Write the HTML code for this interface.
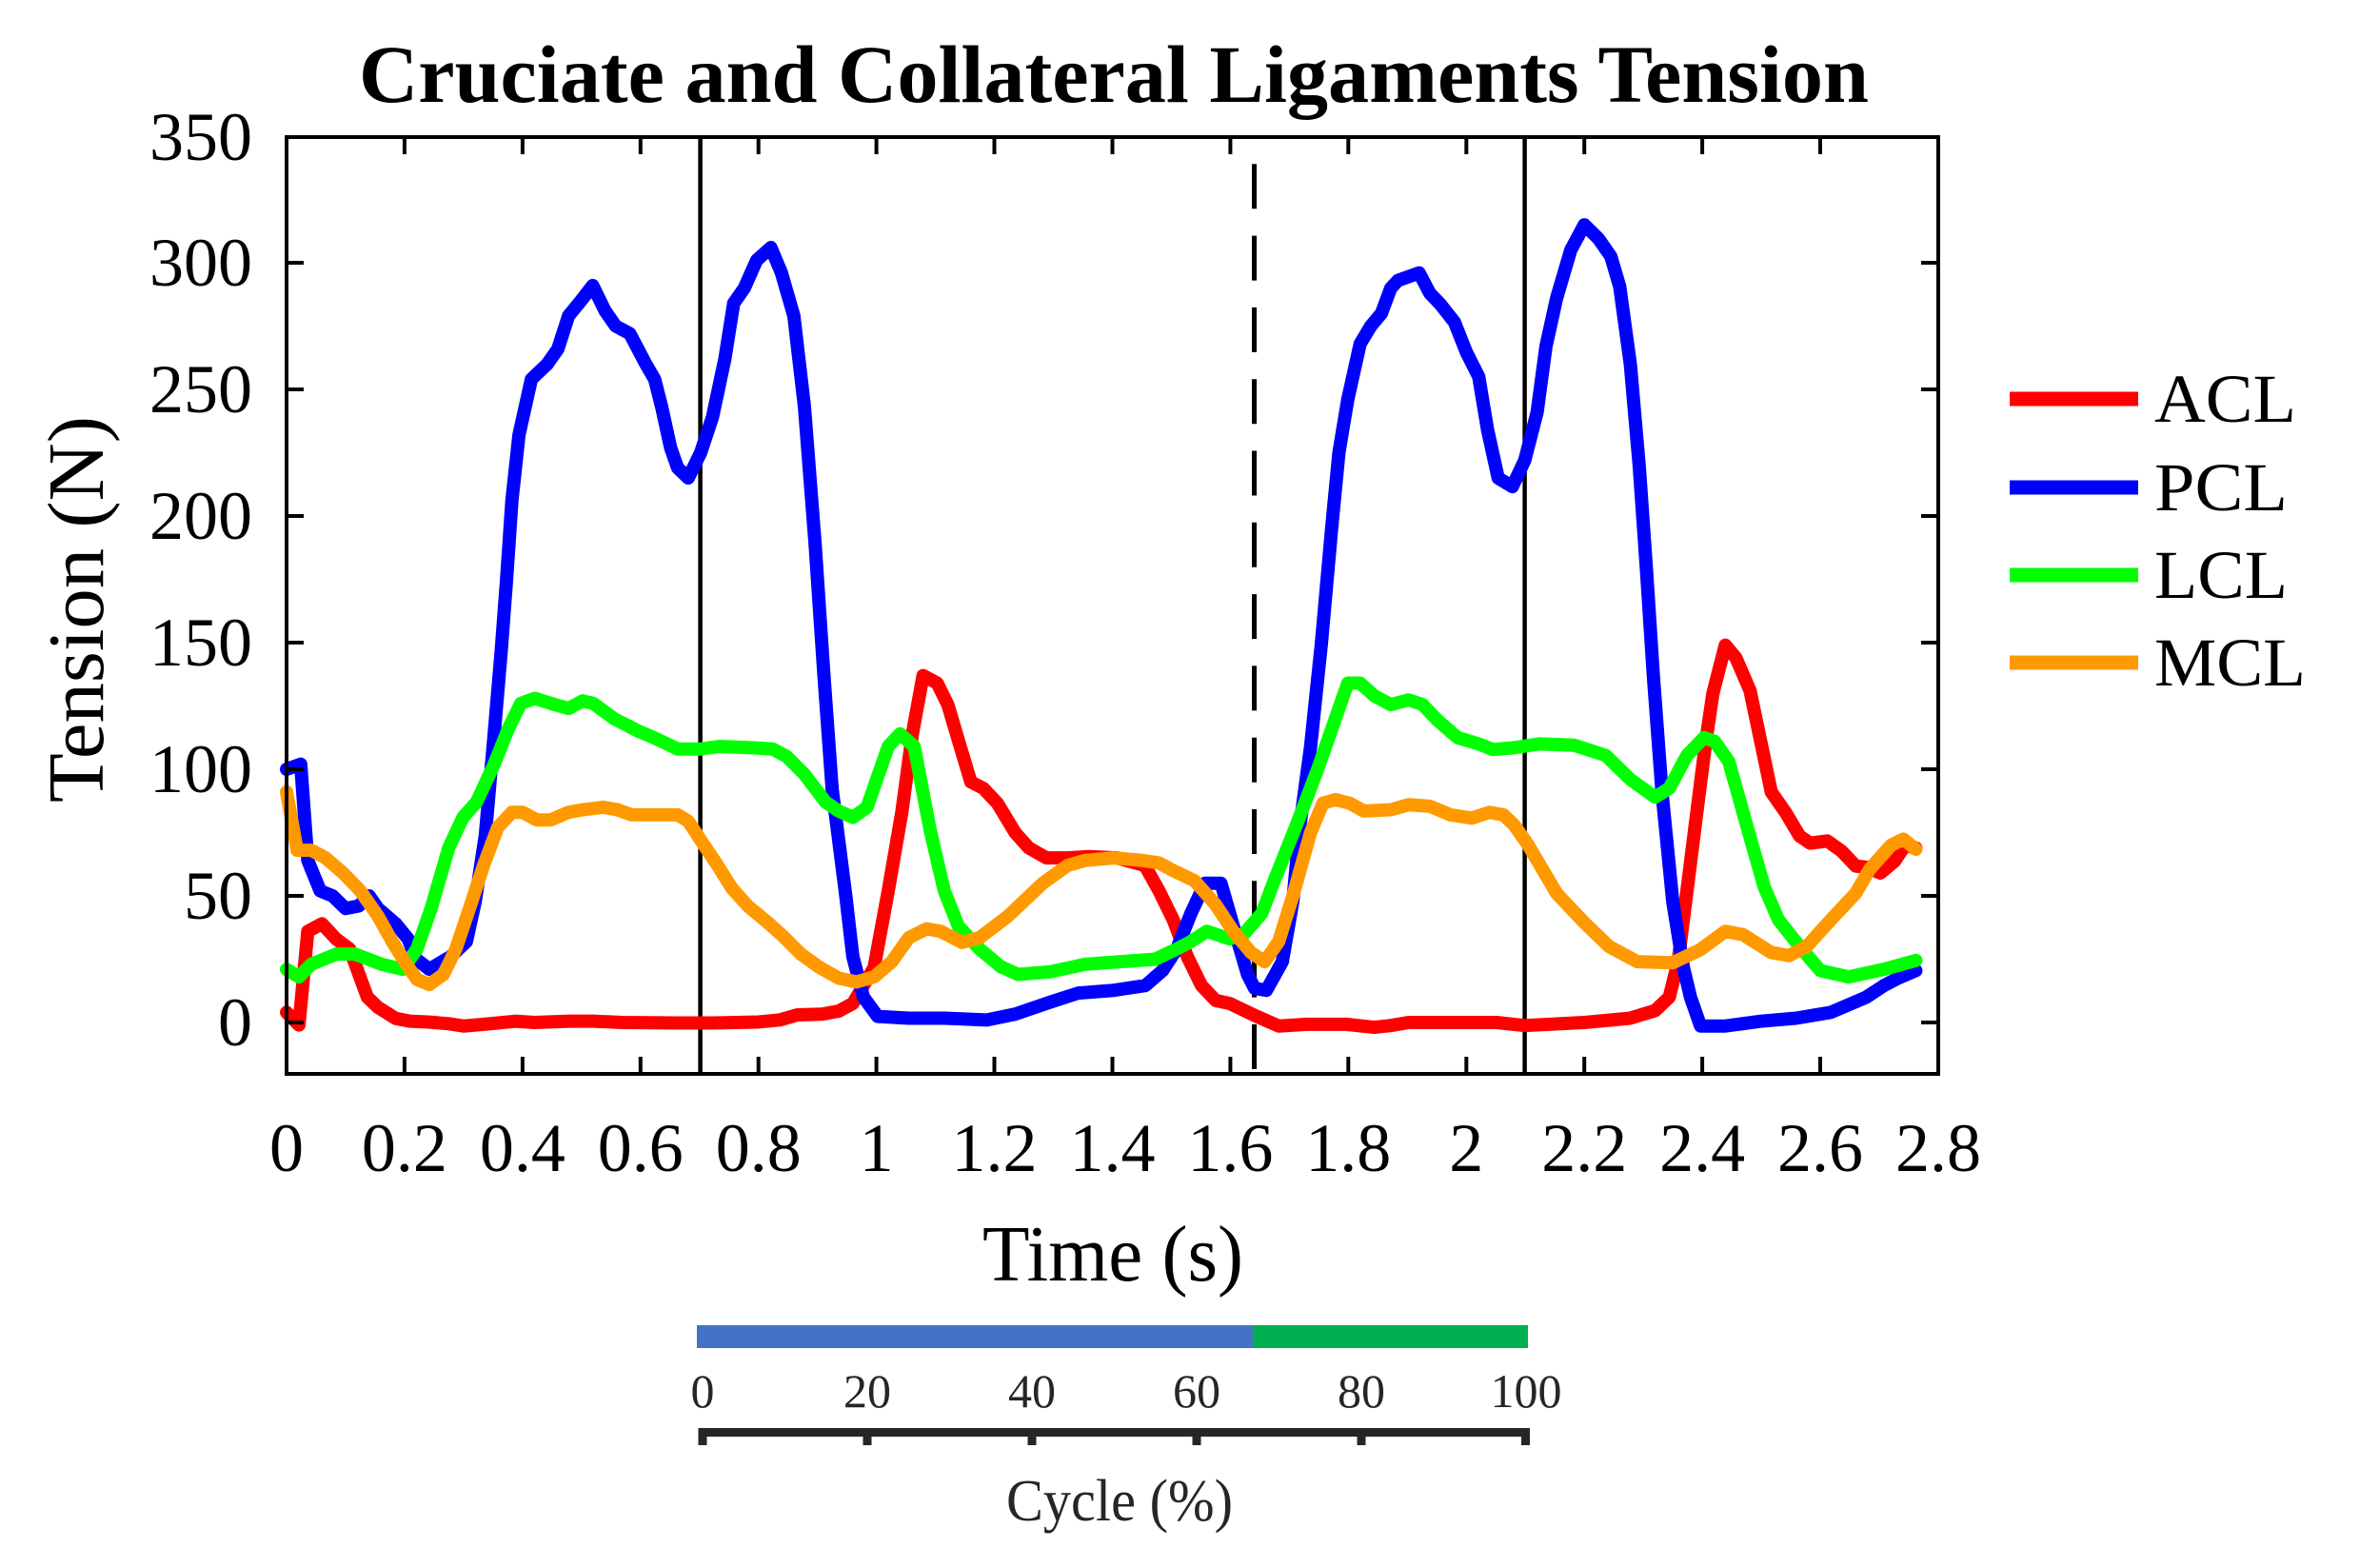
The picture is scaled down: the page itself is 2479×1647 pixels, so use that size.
<!DOCTYPE html>
<html>
<head>
<meta charset="utf-8">
<style>
html,body{margin:0;padding:0;background:#fff;}
svg{display:block;}
text{font-family:"Liberation Serif",serif;}
</style>
</head>
<body>
<svg xmlns="http://www.w3.org/2000/svg" width="2479" height="1647" viewBox="0 0 2479 1647">
<rect x="0" y="0" width="2479" height="1647" fill="#fff"/>

<!-- Title -->
<text x="1170" y="107" font-size="86" font-weight="bold" text-anchor="middle" textLength="1586" lengthAdjust="spacingAndGlyphs">Cruciate and Collateral Ligaments Tension</text>

<!-- vertical reference lines -->
<line x1="735.6" y1="144" x2="735.6" y2="1128" stroke="#000" stroke-width="4.5"/>
<line x1="1317.5" y1="144" x2="1317.5" y2="1128" stroke="#000" stroke-width="5" stroke-dasharray="47 28.3" stroke-dashoffset="47"/>
<line x1="1601.6" y1="144" x2="1601.6" y2="1128" stroke="#000" stroke-width="4.5"/>

<!-- data -->
<g transform="matrix(619.64 0 0 -2.66 301 1074)" fill="none" stroke-linejoin="round" stroke-linecap="round">
<polyline vector-effect="non-scaling-stroke" stroke="#FF0000" stroke-width="14" points="0,4 0.021,-1 0.036,36 0.06,39 0.084,33 0.107,29 0.137,10 0.155,6 0.185,1.6 0.209,0.5 0.24,0.2 0.275,-0.5 0.3,-1.4 0.335,-0.7 0.388,0.5 0.42,0 0.48,0.5 0.52,0.5 0.57,0 0.66,-0.2 0.72,-0.2 0.8,0.2 0.836,1 0.866,3 0.908,3.3 0.936,4.5 0.96,7.5 0.996,21.7 1.02,52 1.043,83 1.061,114 1.079,137 1.103,134 1.121,125.5 1.142,109 1.16,95 1.181,92.5 1.205,86.6 1.235,75 1.258,69 1.288,65 1.324,65 1.36,65.5 1.408,65 1.455,62 1.479,52 1.503,40.6 1.527,26 1.551,14.6 1.575,8.7 1.599,7.5 1.641,2.8 1.682,-1.4 1.73,-0.7 1.796,-0.7 1.844,-1.9 1.872,-1.2 1.902,0 2.051,0 2.099,-1.2 2.2,0 2.278,1.7 2.32,4.7 2.344,10 2.359,24 2.374,52 2.392,85.4 2.406,111 2.418,130 2.439,149 2.457,144 2.481,131 2.499,111 2.517,91 2.541,83 2.565,73.6 2.583,70.8 2.612,71.7 2.636,67.7 2.66,61.8 2.678,61.3 2.702,59 2.726,63.7 2.744,70 2.762,68.9"/>
<polyline vector-effect="non-scaling-stroke" stroke="#0000FF" stroke-width="14" points="0,100 0.024,102 0.036,64 0.057,52 0.078,50 0.10,45 0.122,46 0.14,50 0.155,45 0.185,39 0.206,33 0.22,25 0.242,21 0.278,26 0.305,32 0.32,48 0.337,74 0.352,114 0.364,147 0.373,175 0.382,206 0.394,232 0.415,254 0.442,260 0.46,266 0.478,279 0.499,285 0.519,291 0.54,281 0.558,275 0.582,272 0.609,260 0.624,254 0.636,243 0.651,227 0.663,219 0.681,215 0.702,225 0.722,239 0.743,262 0.758,284 0.776,290 0.797,301 0.821,306 0.839,296 0.86,279 0.878,243 0.896,189 0.911,137 0.925,92 0.936,72 0.948,50 0.96,26 0.978,10 1.002,2.4 1.055,1.7 1.115,1.7 1.187,1 1.235,3.3 1.294,8 1.342,11.6 1.402,12.7 1.456,14.6 1.485,20.5 1.509,29 1.533,43 1.557,55 1.584,55 1.605,38 1.629,19 1.641,13.5 1.661,12.7 1.688,24 1.706,48 1.718,78 1.736,109 1.754,149 1.772,196 1.784,225 1.799,246 1.82,268 1.838,275 1.856,280 1.872,290 1.884,293 1.92,296 1.938,288 1.956,283.6 1.98,276.5 2.0,264.7 2.021,255 2.036,234 2.054,215 2.078,211.6 2.099,222 2.12,241 2.135,267 2.153,286 2.177,305 2.2,315 2.224,309.5 2.245,302.5 2.26,290.6 2.278,260 2.293,220 2.305,180 2.317,137 2.332,90 2.35,47.6 2.368,21.7 2.38,10 2.397,-1.4 2.439,-1.4 2.499,0.5 2.559,1.7 2.618,4 2.678,10 2.708,14.6 2.732,17.5 2.762,20.5"/>
<polyline vector-effect="non-scaling-stroke" stroke="#00FF00" stroke-width="14" points="0,21 0.021,18 0.042,23 0.084,27 0.116,27 0.161,23 0.197,21 0.221,29 0.245,45 0.275,69 0.299,81 0.322,87 0.352,102 0.376,116 0.397,126 0.421,128 0.448,126 0.478,124 0.502,127 0.52,126 0.555,120 0.597,115 0.627,112 0.663,108 0.702,108 0.734,109 0.788,108.5 0.824,108 0.848,105 0.878,98 0.914,87 0.936,83.5 0.96,81 0.984,85 1.02,109 1.04,114 1.064,109 1.091,76 1.115,52 1.139,38 1.175,29 1.211,22 1.24,19 1.294,20 1.354,23 1.414,24 1.473,25 1.509,29 1.533,32 1.56,36 1.599,33 1.623,35 1.653,43 1.676,57 1.712,78 1.748,100 1.784,124 1.799,134 1.82,134 1.844,129 1.872,125.5 1.902,127.4 1.926,125.5 1.95,119.6 1.985,112.5 2.021,110 2.045,107.8 2.081,108.5 2.123,110 2.182,109.5 2.236,105.5 2.278,96 2.32,89 2.344,92.5 2.374,105.5 2.403,112.5 2.421,111 2.445,103 2.475,78 2.505,53.5 2.529,40.6 2.565,30 2.6,20.5 2.648,18 2.708,21 2.762,24.5"/>
<polyline vector-effect="non-scaling-stroke" stroke="#FF9900" stroke-width="14" points="0,91 0.018,68 0.042,68 0.066,65 0.096,59 0.125,52 0.155,42 0.179,32 0.203,23 0.221,17 0.242,15 0.266,19 0.287,29 0.31,45 0.334,62 0.358,77 0.382,83 0.4,83 0.424,80 0.448,80 0.478,83 0.502,84 0.537,85 0.561,84 0.585,82 0.621,82 0.663,82 0.681,79.5 0.702,72 0.728,63 0.755,53 0.782,46 0.818,39 0.842,34 0.872,27 0.902,22 0.936,17.5 0.966,16 0.996,18 1.026,24 1.055,33.5 1.085,37 1.109,36 1.145,31.6 1.175,33.5 1.223,42 1.282,55 1.324,62 1.354,64 1.402,65 1.45,64 1.479,63 1.503,60 1.539,56 1.575,46.5 1.605,36 1.635,27.6 1.658,24 1.682,32 1.706,50 1.736,75 1.757,86.6 1.778,88 1.802,86.6 1.826,83.5 1.872,84 1.902,86 1.938,85.4 1.973,82 2.009,80.7 2.039,83 2.063,82 2.081,78 2.105,70 2.153,51 2.2,39.4 2.242,30 2.29,24 2.35,23.6 2.397,28.8 2.439,36 2.469,34.7 2.517,27.6 2.547,26.4 2.577,30 2.618,40.6 2.66,51 2.684,60.6 2.72,70 2.741,72.4 2.762,68.4"/>
</g>

<!-- axes box -->
<rect x="301" y="144" width="1735" height="984" fill="none" stroke="#000" stroke-width="4"/>

<!-- ticks -->
<g stroke="#000" stroke-width="4">
<line x1="301" y1="1074" x2="319" y2="1074"/><line x1="2036" y1="1074" x2="2018" y2="1074"/>
<line x1="301" y1="941" x2="319" y2="941"/><line x1="2036" y1="941" x2="2018" y2="941"/>
<line x1="301" y1="808" x2="319" y2="808"/><line x1="2036" y1="808" x2="2018" y2="808"/>
<line x1="301" y1="675" x2="319" y2="675"/><line x1="2036" y1="675" x2="2018" y2="675"/>
<line x1="301" y1="542" x2="319" y2="542"/><line x1="2036" y1="542" x2="2018" y2="542"/>
<line x1="301" y1="409" x2="319" y2="409"/><line x1="2036" y1="409" x2="2018" y2="409"/>
<line x1="301" y1="276" x2="319" y2="276"/><line x1="2036" y1="276" x2="2018" y2="276"/>
<line x1="424.9" y1="1128" x2="424.9" y2="1110"/><line x1="424.9" y1="144" x2="424.9" y2="162"/>
<line x1="548.9" y1="1128" x2="548.9" y2="1110"/><line x1="548.9" y1="144" x2="548.9" y2="162"/>
<line x1="672.8" y1="1128" x2="672.8" y2="1110"/><line x1="672.8" y1="144" x2="672.8" y2="162"/>
<line x1="796.7" y1="1128" x2="796.7" y2="1110"/><line x1="796.7" y1="144" x2="796.7" y2="162"/>
<line x1="920.6" y1="1128" x2="920.6" y2="1110"/><line x1="920.6" y1="144" x2="920.6" y2="162"/>
<line x1="1044.5" y1="1128" x2="1044.5" y2="1110"/><line x1="1044.5" y1="144" x2="1044.5" y2="162"/>
<line x1="1168.5" y1="1128" x2="1168.5" y2="1110"/><line x1="1168.5" y1="144" x2="1168.5" y2="162"/>
<line x1="1292.4" y1="1128" x2="1292.4" y2="1110"/><line x1="1292.4" y1="144" x2="1292.4" y2="162"/>
<line x1="1416.3" y1="1128" x2="1416.3" y2="1110"/><line x1="1416.3" y1="144" x2="1416.3" y2="162"/>
<line x1="1540.3" y1="1128" x2="1540.3" y2="1110"/><line x1="1540.3" y1="144" x2="1540.3" y2="162"/>
<line x1="1664.2" y1="1128" x2="1664.2" y2="1110"/><line x1="1664.2" y1="144" x2="1664.2" y2="162"/>
<line x1="1788.1" y1="1128" x2="1788.1" y2="1110"/><line x1="1788.1" y1="144" x2="1788.1" y2="162"/>
<line x1="1912" y1="1128" x2="1912" y2="1110"/><line x1="1912" y1="144" x2="1912" y2="162"/>
</g>

<!-- y tick labels -->
<g font-size="72" text-anchor="end" fill="#000">
<text x="265" y="1098">0</text>
<text x="265" y="965">50</text>
<text x="265" y="832">100</text>
<text x="265" y="699">150</text>
<text x="265" y="566">200</text>
<text x="265" y="433">250</text>
<text x="265" y="300">300</text>
<text x="265" y="168">350</text>
</g>

<!-- x tick labels -->
<g font-size="72" text-anchor="middle" fill="#000">
<text x="301" y="1230">0</text>
<text x="424.9" y="1230">0.2</text>
<text x="548.9" y="1230">0.4</text>
<text x="672.8" y="1230">0.6</text>
<text x="796.7" y="1230">0.8</text>
<text x="920.6" y="1230">1</text>
<text x="1044.5" y="1230">1.2</text>
<text x="1168.5" y="1230">1.4</text>
<text x="1292.4" y="1230">1.6</text>
<text x="1416.3" y="1230">1.8</text>
<text x="1540.3" y="1230">2</text>
<text x="1664.2" y="1230">2.2</text>
<text x="1788.1" y="1230">2.4</text>
<text x="1912" y="1230">2.6</text>
<text x="2036" y="1230">2.8</text>
</g>

<!-- axis labels -->
<text x="1169" y="1345" font-size="84" text-anchor="middle" textLength="274" lengthAdjust="spacingAndGlyphs">Time (s)</text>
<text transform="translate(108,640) rotate(-90)" x="0" y="0" font-size="84" text-anchor="middle" textLength="406" lengthAdjust="spacingAndGlyphs">Tension (N)</text>

<!-- legend -->
<g stroke-width="15">
<line x1="2111" y1="419" x2="2246" y2="419" stroke="#FF0000"/>
<line x1="2111" y1="512" x2="2246" y2="512" stroke="#0000FF"/>
<line x1="2111" y1="604" x2="2246" y2="604" stroke="#00FF00"/>
<line x1="2111" y1="696" x2="2246" y2="696" stroke="#FF9900"/>
</g>
<g font-size="72" fill="#000">
<text x="2263" y="443" textLength="149" lengthAdjust="spacingAndGlyphs">ACL</text>
<text x="2263" y="536" textLength="140" lengthAdjust="spacingAndGlyphs">PCL</text>
<text x="2263" y="628" textLength="140" lengthAdjust="spacingAndGlyphs">LCL</text>
<text x="2263" y="720" textLength="159" lengthAdjust="spacingAndGlyphs">MCL</text>
</g>

<!-- cycle bar -->
<rect x="732" y="1392" width="584" height="24" fill="#4472C4"/>
<rect x="1316" y="1392" width="289" height="24" fill="#00B050"/>

<!-- cycle axis -->
<g fill="#262626">
<rect x="734" y="1500" width="873" height="9"/>
<rect x="733.5" y="1500" width="9" height="18"/>
<rect x="906.5" y="1500" width="9" height="18"/>
<rect x="1079.5" y="1500" width="9" height="18"/>
<rect x="1252.5" y="1500" width="9" height="18"/>
<rect x="1425.5" y="1500" width="9" height="18"/>
<rect x="1598" y="1500" width="9" height="18"/>
</g>
<g font-size="50" text-anchor="middle" fill="#262626">
<text x="738" y="1478">0</text>
<text x="911" y="1478">20</text>
<text x="1084" y="1478">40</text>
<text x="1257" y="1478">60</text>
<text x="1430" y="1478">80</text>
<text x="1603" y="1478">100</text>
</g>
<text x="1176" y="1597" font-size="62" text-anchor="middle" fill="#262626" textLength="238" lengthAdjust="spacingAndGlyphs">Cycle (%)</text>
</svg>
</body>
</html>
